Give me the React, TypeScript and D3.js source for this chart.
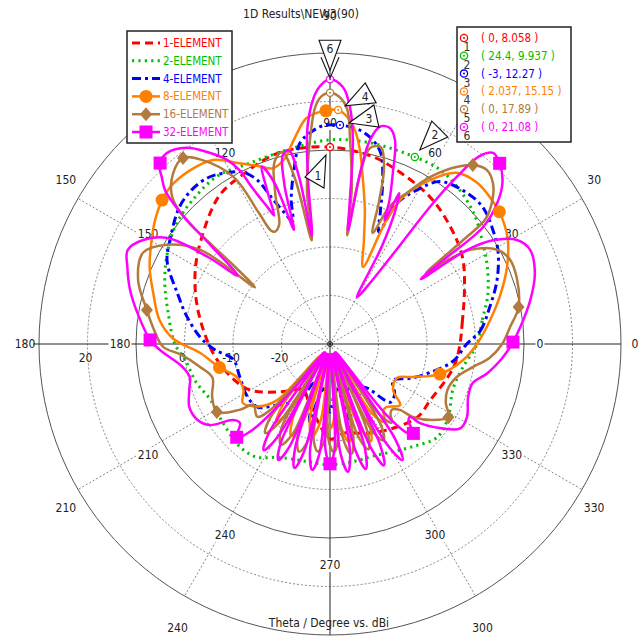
import * as d3 from "d3";

// Polar far-field plot (CST style), drawn with d3.lineRadial on a dB radial scale.

const W = 644;
const H = 637;
const CX = 330;
const CY = 344;
const R = 291;
const FONT = "'DejaVu Sans Condensed', 'DejaVu Sans', sans-serif";

const radialDomain: [number, number] = [-30, 30];
const dashedRings = [-20, -10, 0, 20];
const solidRings = [10, 30];
const radialTickLabels = [-30, -20, -10, 0, 20];
const angleTicks = [0, 30, 60, 90, 120, 150, 180, 210, 240, 270, 300, 330];
// outer labels that are not hidden behind the legends / page edge
const outerAngleTicks = [0, 30, 90, 150, 180, 210, 240, 300, 330];

// [theta (deg, ccw from 0), dBi]
const oneElement: [number, number][] = [
  [0, -3.2], [9, -2.4], [22, -0.1], [33, 2.6], [44, 4.6], [56, 6.7], [69, 8.4], [77, 9.6],
  [90, 10.6], [105, 10.8], [118, 9.2], [127, 8.1], [141, 4.2], [152, 1.5], [164, -1.5],
  [178, -4.6], [188, -6.5], [200, -8.8], [210, -11.0], [224, -15.8], [232, -18.0], [240, -19.1],
  [250, -17.2], [262, -13.5], [270, -10.4], [280, -11.4], [290, -10.4], [303, -8.8], [320, -6.5],
  [331, -6.3], [344, -4.8], [352, -3.8],
];

const twoElement: [number, number][] = [
  [0, 0.3], [9, 1.8], [17, 4.0], [26, 6.1], [34, 7.9], [42, 10.0], [51, 11.7], [58, 12.5],
  [67, 12.3], [79, 12.3], [90, 12.1], [102, 11.0], [114, 10.8], [124, 11.7], [134, 11.0],
  [142, 10.2], [150, 8.6], [159, 6.5], [169, 4.0], [180, 2.0], [186, 0.1], [196, -1.3],
  [205, -2.8], [216, -2.6], [229, -1.8], [237, -2.2], [246, -4.4], [258, -5.3], [270, -5.1],
  [282, -5.3], [290, -5.3], [298, -4.6], [309, -2.8], [319, -0.7], [328, -1.3], [340, -3.0],
  [350, -2.2],
];

const fourElement: [number, number][] = [
  [0, -1.8], [5, 1.1], [13, 3.8], [21, 6.9], [29, 9.6], [35, 11.0], [42, 12.3], [49, 11.9],
  [56, 10.4], [60.5, 6.5], [64.5, 2.2], [66.5, -4.8], [69, -1.1], [72, 5.1], [75, 10.6],
  [78, 12.9], [82, 14.5], [87.4, 15.2], [92, 15.0], [95, 13.9], [98.5, 11.9], [102, 6.1],
  [105, 0.9], [107, -3.6], [109, -1.5], [111.5, 2.0], [114, 7.1], [117, 9.8], [121, 11.2],
  [126, 12.5], [132, 12.7], [138, 11.9], [146, 9.6], [153, 7.7], [161.5, 3.2], [169, 0.1],
  [177, -3.2], [183, -6.3], [189, -9.8], [200, -10.2], [212, -9.8], [221, -10.2], [229, -13.3],
  [241, -16.8], [248, -21.3], [255, -13.5], [262, -20.7], [270, -16.0], [278, -20.7],
  [285, -13.5], [293, -20.1], [300, -18.0], [308, -18.7], [316, -12.7], [322, -13.1],
  [330, -15.0], [337, -11.9], [344, -8.6], [352, -4.4],
];

const eightElement: [number, number][] = [
  [0, 0.3], [8.5, 3.4], [15.5, 6.3], [23.5, 9.8], [31, 12.7], [38, 14.3], [42, 14.7],
  [47.5, 15.0], [53.5, 13.9], [58.6, 9.6], [63.6, 3.8], [65.5, -2.0], [66.8, -12.7],
  [71.9, -7.5], [75.4, -1.5], [78.6, 4.4], [81.2, 10.4], [83.3, 14.3], [85.5, 16.8], [88, 18.3],
  [92, 18.0], [96, 16.8], [100, 12.8], [104, 9.2], [108, 8.1], [112, 9.6], [117, 11.9],
  [122.5, 15.0], [129, 16.0], [135.5, 16.2], [139.4, 15.6], [145, 14.1], [150, 12.5],
  [157, 10.4], [164, 7.9], [172, 5.5], [178, 2.4], [184, -3.2], [192, -6.7], [199.5, -9.6],
  [208, -9.8], [214, -8.3], [219, -9.6], [224, -11.9], [227, -14.5], [229.5, -26.9],
  [232, -14.5], [235.5, -10.4], [239, -14.5], [241, -26.9], [243, -13.5], [247, -9.4],
  [251, -13.5], [253, -26.9], [255, -14.0], [259, -10.4], [263, -14.0], [265, -26.9],
  [267, -14.5], [270, -12.5], [273, -14.5], [275, -26.9], [277, -13.5], [281, -9.4],
  [285, -13.5], [287, -26.9], [289, -13.0], [293, -8.3], [297, -13.0], [299, -25.9],
  [301, -13.5], [305, -10.4], [309, -12.5], [312.1, -12.5], [318.9, -10.8], [323.9, -13.9],
  [333.1, -14.5], [338.3, -11.6], [344.7, -6.5], [353, -2.4],
];

const sixteenElement: [number, number][] = [
  [0, 5.5], [5.4, 7.3], [11, 9.6], [19, 10.8], [25, 11.0], [29.4, 9.6], [33.9, 4.8],
  [35.5, -0.3], [36.5, -5.5], [37.3, -1.5], [38, 5.0], [38.8, 11.2], [41.5, 14.7], [44.6, 17.2],
  [48, 18.3], [51.4, 17.2], [54.3, 15.0], [59, 10.2], [63, 5.0], [66.5, 1.0], [69, -5.5],
  [71, 1.0], [73, 8.1], [75.5, 11.9], [78.5, 11.2], [80, 5.0], [81, -7.3], [82, 2.2],
  [84.4, 12.3], [85.8, 18.5], [88, 21.1], [90, 21.8], [92, 21.1], [93.6, 18.9], [95.6, 12.3],
  [98.5, 2.2], [100, -8.3], [102, 5.1], [104, 10.8], [107, 9.2], [110, 3.0], [113, -3.2],
  [116, -4.2], [117.5, -3.6], [118.5, 0.9], [120, 9.8], [125, 16.4], [128.3, 18.9],
  [132.6, 17.8], [137, 14.5], [139, 10.0], [140, 2.4], [141, -5.1], [143, -10.6], [144, 3.0],
  [148.7, 9.4], [154, 12.9], [161.6, 11.7], [169.5, 8.4], [174.5, 6.7], [181, 4.4], [184, 0.9],
  [190, -2.8], [196, -4.8], [204, -3.4], [211, -2.8], [216, -6.9], [218.5, -9.8], [225, -8.8],
  [228, -12.0], [229.5, -25.9], [231, -10.4], [234, -7.3], [237, -10.4], [238.5, -25.9],
  [240, -10.0], [244, -6.9], [247.5, -10.0], [249, -25.9], [250.5, -10.0], [254, -6.9],
  [257.5, -10.0], [259, -25.9], [260, -10.4], [263.5, -7.7], [267, -10.4], [268, -25.9],
  [269, -10.4], [272, -7.7], [275, -10.4], [276.5, -25.9], [278, -10.0], [281, -6.9],
  [284, -10.0], [285.5, -25.9], [287, -10.0], [290, -6.9], [293, -10.0], [294.5, -25.9],
  [296, -10.0], [299, -7.3], [302, -10.0], [303.5, -25.9], [305, -12.5], [308, -9.4],
  [311, -11.0], [313.5, -11.4], [316.7, -10.2], [318.7, -7.1], [324.6, -3.0], [328.3, -1.3],
  [333, -3.2], [338.5, -4.0], [345.4, -3.0], [350.9, -0.1], [355, 3.0],
];

const thirtyTwoElement: [number, number][] = [
  [0, 7.5], [5.1, 9.4], [12.4, 12.3], [19.1, 14.7], [25.2, 15.6], [29.1, 14.1], [32.5, 9.8],
  [34.5, 4.0], [35.5, -7.0], [36.5, -1.1], [37.4, 9.8], [40.2, 15.2], [43.1, 18.7],
  [46.8, 21.1], [49.5, 21.8], [51.5, 19.5], [52.8, 13.3], [53.9, 5.1], [54.8, -6.3],
  [57, -15.6], [60, -18.9], [62, -7.3], [64, 0.9], [65.3, 4.2], [66.2, -2.2], [67.5, 2.0],
  [69.8, 7.5], [72.3, 14.1], [74.5, 16.2], [77, 16.0], [78.9, 12.9], [80, 6.1], [81, -6.3],
  [82, -1.1], [83.6, 12.3], [85.2, 19.1], [87.1, 23.0], [90, 24.6], [92.9, 22.4], [95.7, 15.8],
  [97.5, 5.1], [99.5, -7.3], [100.5, 5.1], [102, 10.8], [104, 10.2], [106, 4.0], [107.5, -5.3],
  [109, 5.1], [111, 9.2], [112.3, 4.0], [113.5, -1.1], [114.5, 0.9], [116.5, 6.1],
  [117.5, 10.4], [119.2, 13.5], [122.6, 17.0], [126.1, 20.1], [130.5, 21.8], [133.5, 21.1],
  [135.2, 18.9], [137, 16.5], [138.2, 13.0], [139.2, 8.5], [140.5, 1.5], [143.5, -6.3],
  [144.5, 0.9], [146.9, 10.0], [150.9, 14.1], [155.1, 16.0], [159.2, 14.7], [164.9, 12.7],
  [170.9, 10.2], [178.7, 7.1], [182, 5.1], [189, 0.7], [193.3, -0.3], [198, 0.5], [204.2, 1.8],
  [209.7, 1.5], [214, -0.1], [218.1, -4.6], [221.3, -5.3], [225, -2.8], [228, -6.3],
  [231, -17.6], [234, -27.9], [235.5, -7.8], [238, -4.2], [240.5, -7.8], [242, -27.9],
  [243.5, -7.3], [246, -3.8], [248.5, -7.3], [250, -27.9], [251.5, -7.3], [254, -3.4],
  [256.5, -7.3], [258, -27.9], [259.5, -7.3], [262, -3.8], [264.5, -7.3], [266, -27.9],
  [267.5, -8.3], [270, -5.3], [272.5, -8.3], [274, -27.9], [275.5, -7.3], [278, -3.4],
  [280.5, -7.3], [282, -27.9], [283.5, -7.3], [286, -3.2], [288.5, -7.3], [290, -27.9],
  [291.5, -7.0], [294, -2.6], [296.5, -7.0], [298, -27.9], [299.5, -6.5], [302, -1.8],
  [304.5, -6.5], [306, -27.9], [308.5, -11.4], [311, -5.7], [313, -4.8], [315.5, -7.3],
  [317.6, -7.7], [318.7, -5.3], [322.6, -1.5], [327.1, 2.0], [332, 2.0], [339, 0.5],
  [344.7, 0.5], [349.5, 3.0], [355, 5.5],
];

const seriesNames = ["1-ELEMENT", "2-ELEMENT", "4-ELEMENT", "8-ELEMENT", "16-ELEMENT", "32-ELEMENT"];
const seriesColors = ["#ff0000", "#00c000", "#0000ff", "#ff8000", "#b37a3e", "#ff00ff"];

// where the curve symbols sit (deg)
const circleSymbolAngles = [91, 38, 139.4, 192, 344.7];
const diamondSymbolAngles = [11.1, 51.4, 128.3, 169.5, 211, 328.3];
const squareSymbolAngles = [0.6, 46.8, 133.2, 178.7, 225, 270, 313];

// result markers 1..6
const markerIds = ["1", "2", "3", "4", "5", "6"];
const markerAngles = [90, 65.6, 87.4, 88, 90, 90];
const markerTexts = [
  "( 0, 8.058 )",
  "( 24.4, 9.937 )",
  "( -3, 12.27 )",
  "( 2.037, 15.15 )",
  "( 0, 17.89 )",
  "( 0, 21.08 )",
];

const rScale = d3.scaleLinear().domain(radialDomain).range([0, R]);

const series = [
  { data: oneElement, dash: "8,5", width: 3, symbol: "none", angles: [] as number[] },
  { data: twoElement, dash: "2.2,4.2", width: 3, symbol: "none", angles: [] as number[] },
  { data: fourElement, dash: "9,4,3,4", width: 3, symbol: "none", angles: [] as number[] },
  { data: eightElement, dash: "none", width: 2.5, symbol: "circle", angles: circleSymbolAngles },
  { data: sixteenElement, dash: "none", width: 2.5, symbol: "diamond", angles: diamondSymbolAngles },
  { data: thirtyTwoElement, dash: "none", width: 2.5, symbol: "square", angles: squareSymbolAngles },
].map((s, i) => ({ ...s, name: seriesNames[i], color: seriesColors[i] }));

const radial = d3
  .lineRadial<[number, number]>()
  .angle((d) => ((90 - d[0]) * Math.PI) / 180)
  .radius((d) => rScale(d[1]))
  .curve(d3.curveCatmullRomClosed.alpha(0.5));

function polar(theta: number, rad: number): [number, number] {
  const a = (theta * Math.PI) / 180;
  return [CX + rad * Math.cos(a), CY - rad * Math.sin(a)];
}

function ellipsePos(theta: number, rx: number, ry: number): [number, number] {
  const a = (theta * Math.PI) / 180;
  return [CX + rx * Math.cos(a), CY - ry * Math.sin(a)];
}

function valueAt(data: [number, number][], angle: number): number {
  const n = data.length;
  for (let i = 0; i < n; i++) {
    const [a0, v0] = data[i];
    const last = i === n - 1;
    const a1 = last ? data[0][0] + 360 : data[i + 1][0];
    const v1 = last ? data[0][1] : data[i + 1][1];
    let a = angle;
    if (last && a < a0) a += 360;
    if (a >= a0 && a <= a1) return v0 + ((v1 - v0) * (a - a0)) / (a1 - a0);
  }
  return data[0][1];
}

function Symbol({ kind, x, y, color }: { kind: string; x: number; y: number; color: string }) {
  if (kind === "circle") return <circle cx={x} cy={y} r={6.5} fill={color} />;
  if (kind === "diamond")
    return <path d={`M${x},${y - 7}L${x + 6},${y}L${x},${y + 7}L${x - 6},${y}Z`} fill={color} />;
  if (kind === "square") return <rect x={x - 6.5} y={y - 6.5} width={13} height={13} fill={color} />;
  return null;
}

function ResultMark({ x, y, color }: { x: number; y: number; color: string }) {
  return (
    <g>
      <circle cx={x} cy={y} r={3.6} fill="#fff" stroke={color} strokeWidth={1.3} />
      <circle cx={x} cy={y} r={1} fill={color} />
    </g>
  );
}

// callout triangles, offsets from their marker
const callouts: { tri: [number, number][]; v?: [number, number][]; text: [number, number] }[] = [
  { tri: [[-4, 8], [-6, 41], [-25, 30]], text: [-12, 29] },
  { tri: [[17, -36], [33, -20], [5, -7]], text: [20, -22] },
  { tri: [[34, -20], [39, 2], [9, -2]], text: [29, -6] },
  { tri: [[27, -27], [38, -7], [7, -4]], text: [27, -13] },
  { tri: [], text: [0, 0] },
  { tri: [[-11, -39], [11, -39], [0, -9]], v: [[-9, -22], [0, -1], [9, -22]], text: [0, -30] },
];

export default function App() {
  const markerPos = markerAngles.map((a, i) =>
    polar(a, rScale(valueAt(series[i].data, a)))
  );

  return (
    <svg
      width={W}
      height={H}
      style={{ position: "absolute", left: 0, top: 0, background: "#fff", fontFamily: FONT }}
    >
      <rect width={W} height={H} fill="#fff" />

      {/* grid */}
      {dashedRings.map((v) => (
        <circle key={`dr${v}`} cx={CX} cy={CY} r={rScale(v)} fill="none" stroke="#777" strokeWidth={0.9} strokeDasharray="2,2" />
      ))}
      {solidRings.map((v) => (
        <circle key={`sr${v}`} cx={CX} cy={CY} r={rScale(v)} fill="none" stroke="#555" strokeWidth={1} />
      ))}
      {angleTicks
        .filter((a) => a % 90 !== 0)
        .map((a) => {
          const [x, y] = polar(a, R);
          return <line key={`sp${a}`} x1={CX} y1={CY} x2={x} y2={y} stroke="#777" strokeWidth={0.9} strokeDasharray="2,2" />;
        })}
      <line x1={CX - R - 6} y1={CY} x2={CX + R} y2={CY} stroke="#222" strokeWidth={1} />
      <line x1={CX} y1={CY - R} x2={CX} y2={CY + R} stroke="#222" strokeWidth={1} />

      {/* inner angle labels */}
      {angleTicks.map((a) => {
        const [x, y] = ellipsePos(a, 210, 221);
        const label = String(a);
        const w = label.length * 7 + 2;
        return (
          <g key={`il${a}`}>
            <rect x={x - w / 2} y={y - 7} width={w} height={14} fill="#fff" />
            <text x={x} y={y} textAnchor="middle" dominantBaseline="central" fontSize={12} fill="#222">
              {label}
            </text>
          </g>
        );
      })}
      {/* outer angle labels */}
      {outerAngleTicks.map((a) => {
        const [x, y] = ellipsePos(a, 305, 328);
        return (
          <text key={`ol${a}`} x={x} y={y} textAnchor="middle" dominantBaseline="central" fontSize={12} fill="#222">
            {a}
          </text>
        );
      })}
      {/* radial labels */}
      {radialTickLabels.map((v) => (
        <text key={`rl${v}`} x={CX - rScale(v) - 2} y={CY + 14} textAnchor="middle" dominantBaseline="central" fontSize={12} fill="#222">
          {v}
        </text>
      ))}

      {/* curves */}
      <g transform={`translate(${CX},${CY})`}>
        {series.map((s) => (
          <path
            key={s.name}
            d={radial(s.data) ?? ""}
            fill="none"
            stroke={s.color}
            strokeWidth={s.width}
            strokeDasharray={s.dash}
            strokeLinejoin="round"
          />
        ))}
      </g>
      {series.map((s) =>
        s.angles.map((a) => {
          const [x, y] = polar(a, rScale(valueAt(s.data, a)));
          return <Symbol key={`${s.name}${a}`} kind={s.symbol} x={x} y={y} color={s.color} />;
        })
      )}

      <circle cx={CX} cy={CY} r={2.5} fill="none" stroke="#222" strokeWidth={1} />
      <circle cx={CX} cy={CY} r={0.9} fill="#222" />

      {/* result markers + callouts */}
      {markerPos.map(([x, y], i) => (
        <ResultMark key={`m${i}`} x={x} y={y} color={seriesColors[i]} />
      ))}
      {markerPos.map(([x, y], i) => {
        const c = callouts[i];
        if (c.tri.length === 0) return null;
        return (
          <g key={`c${i}`}>
            <polygon
              points={c.tri.map(([dx, dy]) => `${x + dx},${y + dy}`).join(" ")}
              fill="#fff"
              stroke="#111"
              strokeWidth={1.1}
            />
            {c.v && (
              <polyline
                points={c.v.map(([dx, dy]) => `${x + dx},${y + dy}`).join(" ")}
                fill="none"
                stroke="#111"
                strokeWidth={1.1}
              />
            )}
            <text x={x + c.text[0]} y={y + c.text[1]} textAnchor="middle" dominantBaseline="central" fontSize={12} fill="#222">
              {markerIds[i]}
            </text>
          </g>
        );
      })}

      {/* series legend */}
      <rect x={127} y={31} width={105} height={112} fill="#fff" stroke="#222" strokeWidth={1.5} />
      {series.map((s, i) => {
        const y = 43 + i * 17.8;
        return (
          <g key={`lg${i}`}>
            <line x1={132} y1={y} x2={160} y2={y} stroke={s.color} strokeWidth={s.width} strokeDasharray={s.dash} />
            <Symbol kind={s.symbol} x={146} y={y} color={s.color} />
            <text x={163} y={y} dominantBaseline="central" fontSize={11.5} fill={s.color}>
              {s.name}
            </text>
          </g>
        );
      })}

      {/* marker legend */}
      <rect x={457} y={27} width={114} height={115} fill="#fff" stroke="#222" strokeWidth={1.5} />
      {markerTexts.map((t, i) => {
        const y = 38 + i * 17.8;
        return (
          <g key={`mk${i}`}>
            <ResultMark x={464} y={y} color={seriesColors[i]} />
            <text x={467} y={y + 9} textAnchor="middle" dominantBaseline="central" fontSize={12} fill="#333">
              {markerIds[i]}
            </text>
            <text x={481} y={y} dominantBaseline="central" fontSize={11.5} fill={seriesColors[i]}>
              {t}
            </text>
          </g>
        );
      })}

      <text x={301} y={14} textAnchor="middle" dominantBaseline="central" fontSize={12} fill="#222">
        1D Results\NEW3(90)
      </text>
      <text x={329} y={623} textAnchor="middle" dominantBaseline="central" fontSize={12} fill="#222">
        Theta / Degree vs. dBi
      </text>
    </svg>
  );
}
